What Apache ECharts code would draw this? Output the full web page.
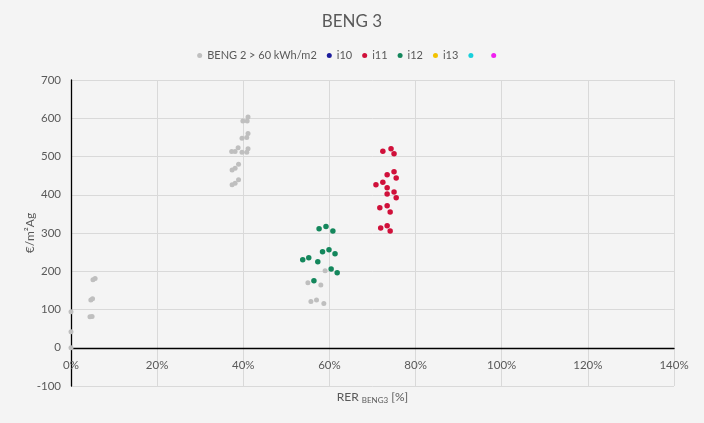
<!DOCTYPE html>
<html>
<head>
<meta charset="utf-8">
<script src="https://cdn.jsdelivr.net/npm/echarts@6/dist/echarts.min.js"></script>
<style>html,body{margin:0;padding:0;background:#f4f4f4}#c{width:704px;height:423px}</style>
</head>
<body>
<div id="c"></div>
<script>
var title = 'BENG 3';
var seriesNames = ['BENG 2 > 60 kWh/m2', 'i10', 'i11', 'i12', 'i13', ' ', '  '];
var seriesColors = ['#bfbfbf', '#1c1c9c', '#d0103a', '#14875c', '#f2c200', '#18d0dc', '#f020f0'];
var xTicks = [0, 20, 40, 60, 80, 100, 120, 140];
var yTicks = [-100, 0, 100, 200, 300, 400, 500, 600, 700];

var beng2 = [
  [0, 0], [0, 42], [0, 94],
  [4.4, 81], [4.9, 82], [4.6, 125], [5.0, 128], [5.1, 178], [5.6, 181],
  [39.9, 593], [40.9, 593], [41.1, 603],
  [39.7, 548], [40.8, 550], [41.1, 560],
  [37.3, 513], [38.1, 513], [38.8, 523], [39.7, 511], [40.8, 511], [41.1, 520],
  [38.9, 480], [38.1, 469], [37.4, 465],
  [38.9, 439], [38.1, 430], [37.4, 426],
  [59.0, 201], [55.0, 170], [58.0, 164],
  [55.7, 121], [57.0, 125], [58.7, 116]
];
var i10 = [];
var i11 = [
  [72.4, 514], [74.3, 520], [75.0, 507],
  [73.4, 452], [75.0, 460], [75.5, 444],
  [70.8, 426], [72.4, 433], [73.4, 418],
  [75.0, 407], [75.5, 392], [73.4, 402],
  [71.7, 366], [73.4, 371], [74.1, 355],
  [71.9, 313], [73.4, 319], [74.1, 305]
];
var i12 = [
  [57.6, 311], [59.2, 317], [60.8, 305],
  [58.4, 251], [59.9, 256], [61.3, 246],
  [53.8, 230], [55.2, 235], [57.3, 225],
  [60.4, 206], [61.8, 196], [56.4, 175]
];
var i13 = [];
var extra1 = [];
var extra2 = [];

var allData = [beng2, i10, i11, i12, i13, extra1, extra2];
var font = 'Lato, "Open Sans", sans-serif';

var chart = echarts.init(document.getElementById('c'), null, {renderer: 'canvas'});
chart.setOption({
  backgroundColor: '#f4f4f4',
  animation: false,
  textStyle: {fontFamily: font},
  title: {
    text: title, left: 'center', top: 8,
    textStyle: {fontFamily: font, fontSize: 17, fontWeight: 'normal', color: '#595959'}
  },
  legend: {
    top: 45, left: 'center',
    itemWidth: 5, itemHeight: 5, itemGap: 10,
    icon: 'circle',
    data: seriesNames,
    textStyle: {fontFamily: font, fontSize: 11, color: '#595959'}
  },
  grid: {left: 71, right: 30, top: 80, bottom: 37, outerBoundsMode: 'none', containLabel: false},
  xAxis: {
    type: 'value', min: 0, max: 140, interval: 20,
    axisLine: {onZero: true, lineStyle: {color: '#000', width: 1.3}},
    axisTick: {show: false},
    axisLabel: {formatter: '{value}%', color: '#595959', fontSize: 11.5, fontFamily: font, margin: -27},
    splitLine: {show: true, lineStyle: {color: '#d9d9d9'}},
    name: 'RER {sub|BENG3} [%]',
    nameLocation: 'middle', nameGap: 4,
    nameTextStyle: {
      color: '#595959', fontSize: 12, fontFamily: font,
      rich: {sub: {fontSize: 8, color: '#595959', fontFamily: font, padding: [6, 0, 0, 0]}}
    }
  },
  yAxis: {
    type: 'value', min: -100, max: 700, interval: 100,
    axisLine: {show: true, onZero: false, lineStyle: {color: '#000', width: 1.3}},
    axisTick: {show: false},
    axisLabel: {color: '#595959', fontSize: 11.5, fontFamily: font, margin: 10},
    splitLine: {show: true, lineStyle: {color: '#d9d9d9'}},
    name: '€/m²Ag', nameLocation: 'middle', nameGap: 35, nameRotate: 90,
    nameMoveOverlap: false,
    nameTextStyle: {color: '#595959', fontSize: 12, fontFamily: font}
  },
  series: seriesNames.map(function (n, i) {
    return {
      name: n, type: 'scatter',
      data: allData[i],
      symbolSize: i === 0 ? 5 : 5.5,
      itemStyle: {color: seriesColors[i], opacity: 1}
    };
  })
});
</script>
</body>
</html>
